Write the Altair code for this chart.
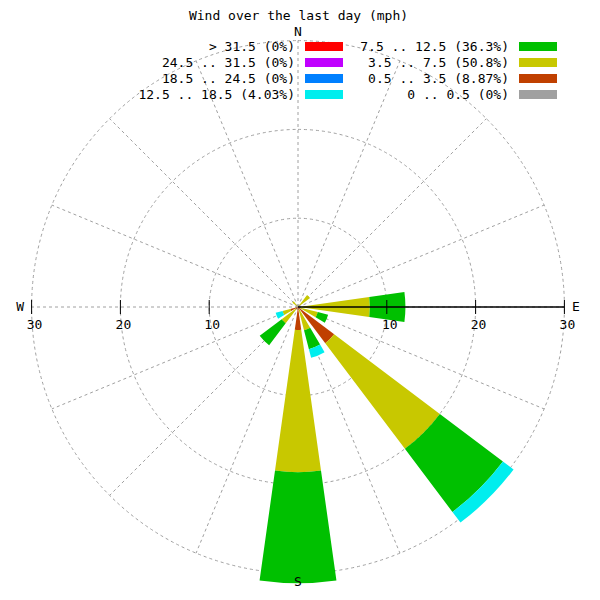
import altair as alt
import numpy as np
import pandas as pd

# ---------------- data ----------------
title_text = "Wind over the last day (mph)"
directions = ["N", "NNE", "NE", "ENE", "E", "ESE", "SE", "SSE",
              "S", "SSW", "SW", "WSW", "W", "WNW", "NW", "NNW"]
speed_bins = ["0 .. 0.5", "0.5 .. 3.5", "3.5 .. 7.5", "7.5 .. 12.5",
              "12.5 .. 18.5", "18.5 .. 24.5", "24.5 .. 31.5", "> 31.5"]
bin_share = ["0%", "8.87%", "50.8%", "36.3%", "4.03%", "0%", "0%", "0%"]
bin_colors = ["#a0a0a0", "#c04000", "#c8c800", "#00c000",
              "#00eeee", "#0080ff", "#c000ff", "#ff0000"]

# radial length of each speed bin per direction (N .. NNW)
calm_0   = [0, 0, 0,   0, 0,   0,   0,    0,   0,    0, 0,   0,   0, 0, 0,   0]
s_05_35  = [0, 0, 0.2, 0, 0.3, 0.3, 5.1,  0.3, 2.6,  0, 0.3, 0.9, 0, 0, 0,   0]
s_35_75  = [0, 0, 1.5, 0, 7.8, 2.0, 14.9, 2.4, 16.0, 0, 2.0, 0.9, 0, 0, 0.8, 0]
s_75_125 = [0, 0, 0,   0, 4.0, 1.2, 8.9,  2.2, 12.5, 0, 3.1, 0,   0, 0, 0,   0]
s_125_185 = [0, 0, 0,  0, 0,   0,   1.5,  1.0, 0,    0, 0,   0.8, 0, 0, 0,   0]
s_185_245 = [0] * 16
s_245_315 = [0] * 16
s_gt_315  = [0] * 16
series = [calm_0, s_05_35, s_35_75, s_75_125, s_125_185, s_185_245, s_245_315, s_gt_315]

ring_values = [10, 20, 30]
axis_ticks = [-30, -20, -10, 10, 20, 30]
compass = ["N", "E", "S", "W"]
compass_bearing = [0, 90, 180, 270]

# ---------------- layout / style ----------------
CX, CY = 290, 299          # centre of the rose inside the view
R = 266.4                  # pixels for 30 units
HALF = 8                   # half width of a petal in degrees
FONT = "DejaVu Sans Mono"
GRID = "#a0a0a0"

xs = alt.Scale(domain=[-30, 30], range=[CX - R, CX + R], nice=False, zero=False)
ys = alt.Scale(domain=[-30, 30], range=[CY + R, CY - R], nice=False, zero=False)
th = alt.Scale(domain=[0, 360], range=[0, 2 * np.pi])
rs = alt.Scale(type="linear", domain=[0, 30], range=[0, R], nice=False, zero=True)
cs = alt.Scale(domain=speed_bins, range=bin_colors)

# ---------------- tables ----------------
rows = []
for i, d in enumerate(directions):
    b = i * 22.5
    r = 0.0
    for k, name in enumerate(speed_bins):
        v = series[k][i]
        if v > 0:
            t0 = b - HALF
            t1 = b + HALF
            if t0 < 0:
                t0 += 360
                t1 += 360
            rows.append(dict(dir=d, bin=name, r0=r, r1=r + v, t0=t0, t1=t1))
            r += v
petals = pd.DataFrame(rows)

rings = pd.DataFrame({"r": ring_values})
spokes = pd.DataFrame({"b": [i * 22.5 for i in range(len(directions))]})
ticks = pd.DataFrame({"t": axis_ticks, "lab": [str(abs(t)) for t in axis_ticks]})
cmp_df = pd.DataFrame({"name": compass, "b": compass_bearing})

leg_rows = []
for k, name in enumerate(reversed(speed_bins)):
    idx = len(speed_bins) - 1 - k
    leg_rows.append(dict(bin=name, label=f"{name} ({bin_share[idx]})",
                         col=k // 4, row=k % 4))
legend_df = pd.DataFrame(leg_rows)

# ---------------- geometry layers ----------------
ring_layer = alt.Chart(rings).mark_arc(
    fillOpacity=0, stroke=GRID, strokeWidth=1, strokeDash=[3, 3]
).encode(
    radius=alt.Radius("r:Q", scale=rs, stack=None),
    theta=alt.value(0), theta2=alt.value(2 * np.pi),
    x=alt.value(CX), y=alt.value(CY),
)

spoke_layer = alt.Chart(spokes).transform_calculate(
    ox="0", oy="0",
    ex="30*sin(datum.b*PI/180)", ey="30*cos(datum.b*PI/180)",
).mark_rule(color=GRID, strokeWidth=1, strokeDash=[3, 3]).encode(
    x=alt.X("ox:Q", scale=xs, axis=None), x2="ex:Q",
    y=alt.Y("oy:Q", scale=ys, axis=None), y2="ey:Q",
)

petal_layer = alt.Chart(petals).mark_arc().encode(
    theta=alt.Theta("t0:Q", scale=th, stack=None), theta2="t1:Q",
    radius=alt.Radius("r1:Q", scale=rs, stack=None), radius2="r0:Q",
    color=alt.Color("bin:N", scale=cs, legend=None),
    x=alt.value(CX), y=alt.value(CY),
)

axis_line = alt.Chart(pd.DataFrame({"a": [0]})).mark_rule(color="black", strokeWidth=1.5).encode(
    x=alt.XDatum(0, scale=xs, axis=None), x2=alt.X2Datum(30),
    y=alt.YDatum(0, scale=ys, axis=None),
)

tick_layer = alt.Chart(ticks).mark_tick(
    orient="vertical", size=14, thickness=1, color="black", opacity=1
).encode(
    x=alt.X("t:Q", scale=xs, axis=None),
    y=alt.YDatum(0, scale=ys, axis=None),
)

tick_text = alt.Chart(ticks).mark_text(
    font=FONT, fontSize=13, color="black", dy=18, dx=3, baseline="middle"
).encode(
    x=alt.X("t:Q", scale=xs, axis=None),
    y=alt.YDatum(0, scale=ys, axis=None),
    text="lab:N",
)

compass_layer = alt.Chart(cmp_df).transform_calculate(
    px="31.3*sin(datum.b*PI/180)", py="31.0*cos(datum.b*PI/180)"
).mark_text(font=FONT, fontSize=13, color="black", baseline="middle").encode(
    x=alt.X("px:Q", scale=xs, axis=None),
    y=alt.Y("py:Q", scale=ys, axis=None),
    text="name:N",
)

geo = alt.layer(ring_layer, spoke_layer, petal_layer, axis_line, tick_layer,
                tick_text, compass_layer)

# ---------------- legend / title ----------------
lx = alt.Scale(domain=[0, 1], range=[297, 511], nice=False, zero=False)
ly = alt.Scale(domain=[0, 3], range=[38.5, 86.5], nice=False, zero=False)

leg_text = alt.Chart(legend_df).mark_text(
    font=FONT, fontSize=13, color="black", align="right", baseline="middle", dx=-10
).encode(
    x=alt.X("col:Q", scale=lx, axis=None),
    y=alt.Y("row:Q", scale=ly, axis=None),
    text="label:N",
)

leg_sw = alt.Chart(legend_df).mark_tick(
    orient="horizontal", size=38, thickness=9, opacity=1, xOffset=19
).encode(
    x=alt.X("col:Q", scale=lx, axis=None),
    y=alt.Y("row:Q", scale=ly, axis=None),
    color=alt.Color("bin:N", scale=cs, legend=None),
)

title_layer = alt.Chart(pd.DataFrame({"t": [title_text]})).mark_text(
    font=FONT, fontSize=13, color="black", baseline="middle"
).encode(x=alt.value(CX + 0.5), y=alt.value(8), text="t:N")

legend = alt.layer(leg_text, leg_sw, title_layer)

chart = alt.layer(geo, legend).resolve_scale(
    x="independent", y="independent"
).properties(
    width=584, height=584, autosize="none", padding=0, background="white"
).configure_view(strokeWidth=0)

chart.save("out.html", embed_options={"renderer": "svg", "actions": False})
